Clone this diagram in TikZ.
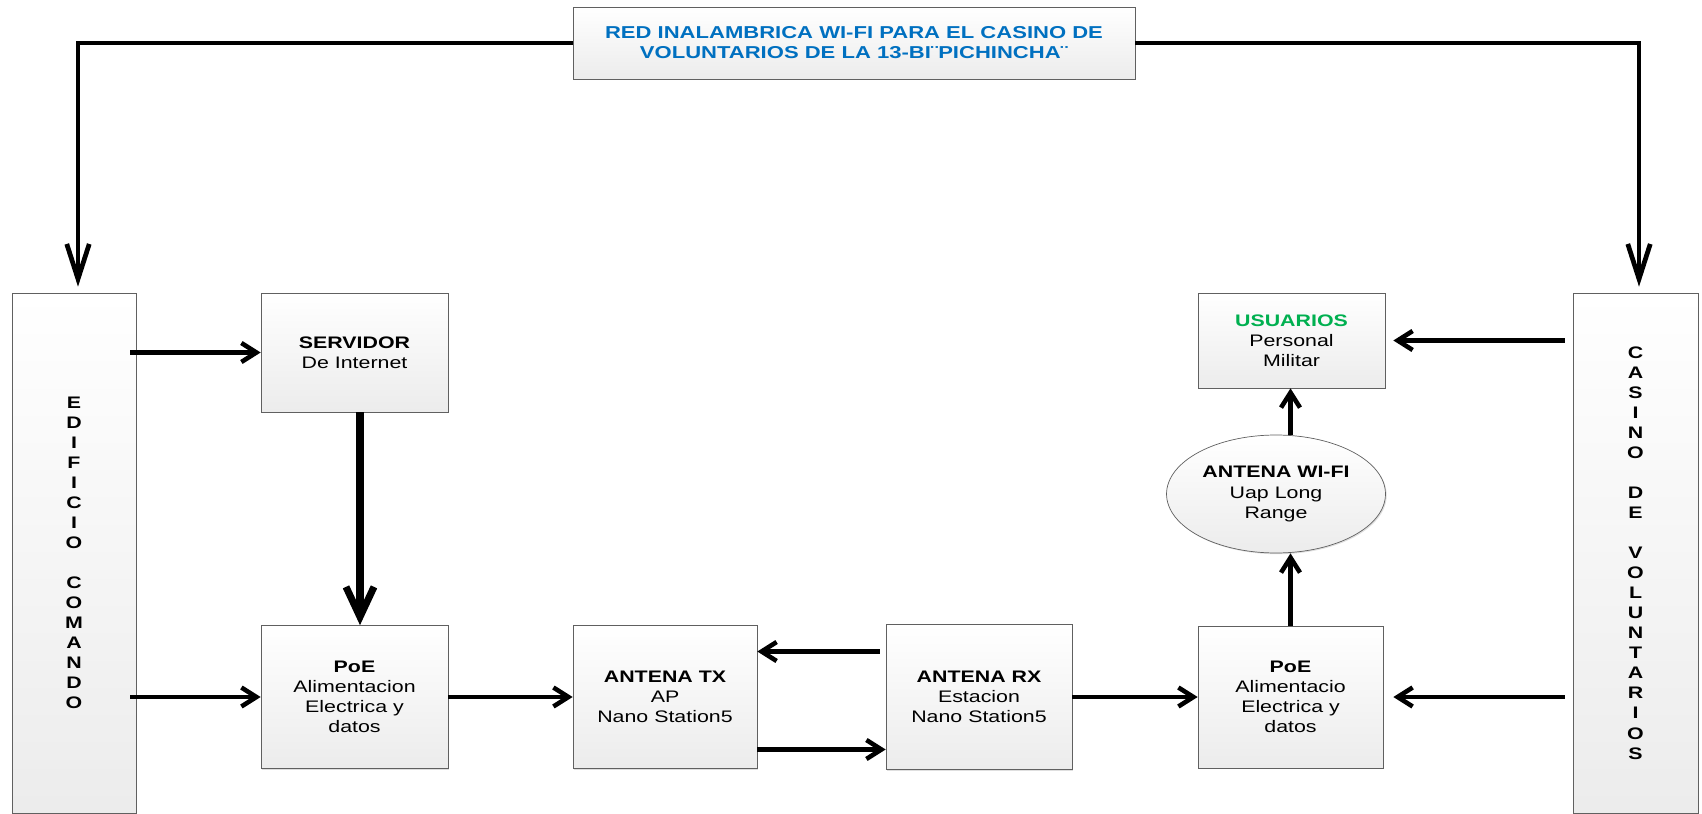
\documentclass[tikz,border=0pt]{standalone}
\usepackage{fontspec}
\setmainfont{Liberation Sans}[FakeStretch=1.28]
\usetikzlibrary{arrows.meta,shapes.geometric,positioning,calc,shadows}
\definecolor{azultitulo}{RGB}{0,112,192}
\definecolor{verdeusuarios}{RGB}{0,176,80}

\begin{document}
\begin{tikzpicture}[
        x=0.02cm, y=-0.02cm,
        % Estilo para las cajas
        box style/.style = {
            draw=gray!75!black,
            rectangle,
            align=center,
            top color=white,
            bottom color=gray!15,
            drop shadow={shadow xshift=0.7pt, shadow yshift=-0.7pt, opacity=0.25},
            font=\fontsize{9.5}{11.4}\selectfont,
            minimum width=3.74cm
        },
        % Estilo para los edificios laterales
        bar style/.style = {
            box style,
            font=\fontsize{9.5}{11.4}\selectfont\bfseries,
            minimum width=2.48cm,
            minimum height=10.4cm
        },
        % Estilo de las flechas
        edge arrow/.style = {
            -{Straight Barb[length=0.3cm,width=0.38cm]},
            line width=2.6pt
        },
        big arrow/.style = {
            -{Straight Barb[length=0.6cm,width=0.56cm]},
            line width=4pt
        },
        top line/.style = {
            -{Straight Barb[length=0.7cm,width=0.45cm]},
            line width=2.7pt
        }
    ]
    \tikzset{
        oval style/.style={box style, ellipse, inner sep=0pt, minimum width=4.38cm, minimum height=2.36cm}
    }

    % Titulo
    \node[box style, minimum width=11.24cm, minimum height=1.44cm,
          font=\fontsize{9.8}{11.4}\selectfont\bfseries, text=azultitulo] (titulo) at (854,43)
        {RED INALAMBRICA WI-FI PARA EL CASINO DE\\VOLUNTARIOS DE LA 13-BI¨PICHINCHA¨};

    % Edificios
    \node[bar style] (edificio) at (74,553)
        {E\\D\\I\\F\\I\\C\\I\\O\\~\\C\\O\\M\\A\\N\\D\\O};
    \node[bar style, minimum width=2.5cm] (casino) at (1635.5,553)
        {C\\A\\S\\I\\N\\O\\~\\D\\E\\~\\V\\O\\L\\U\\N\\T\\A\\R\\I\\O\\S};

    % Equipos
    \node[box style, minimum height=2.38cm] (servidor) at (354.5,352.5)
        {\textbf{SERVIDOR}\\De Internet};
    \node[box style, minimum height=2.86cm] (poe1) at (354.5,697)
        {\textbf{PoE}\\Alimentacion\\Electrica y\\datos};
    \node[box style, minimum width=3.68cm, minimum height=2.86cm] (tx) at (665,697)
        {\textbf{ANTENA TX}\\AP\\Nano Station5};
    \node[box style, minimum width=3.72cm, minimum height=2.9cm] (rx) at (979,697)
        {\textbf{ANTENA RX}\\Estacion\\Nano Station5};
    \node[box style, minimum width=3.7cm, minimum height=2.84cm] (poe2) at (1290.5,697)
        {\textbf{PoE}\\Alimentacio\\Electrica y\\datos};
    \node[oval style] (antena) at (1276,494)
        {\textbf{ANTENA WI-FI}\\Uap Long\\Range};
    \node[box style, minimum height=1.9cm] (usuarios) at (1291.5,340.5)
        {\textcolor{verdeusuarios}{\textbf{USUARIOS}}\\Personal\\Militar};

    % Conexiones
    \draw[top line, shorten >=0.12cm] (titulo.west) -| ([xshift=0.08cm]edificio.north);
    \draw[top line, shorten >=0.12cm] (titulo.east) -| ([xshift=0.07cm]casino.north);
    \draw[edge arrow, shorten <=-0.12cm] (edificio.east |- servidor.west) -- (servidor.west);
    \draw[edge arrow, shorten <=-0.12cm] (edificio.east |- poe1.west) -- (poe1.west);
    \draw[big arrow] ([xshift=0.11cm]servidor.south) -- ([xshift=0.11cm]poe1.north);
    \draw[edge arrow] (poe1.east) -- (tx.west);
    \draw[edge arrow, shorten <=0.12cm] ([yshift=0.91cm]rx.west) -- ([yshift=0.91cm]tx.east);
    \draw[edge arrow] ([yshift=-1.05cm]tx.east) -- ([yshift=-1.05cm]rx.west);
    \draw[edge arrow] (rx.east) -- (poe2.west);
    \draw[edge arrow, shorten <=0.16cm, shorten >=0.2cm] (casino.west |- poe2.east) -- (poe2.east);
    \draw[edge arrow, shorten <=0.16cm, shorten >=0.16cm] (casino.west |- usuarios.east) -- (usuarios.east);
    \draw[edge arrow] (poe2.north) -- (poe2.north |- antena.south);
    \draw[edge arrow] (poe2.north |- antena.north) -- (poe2.north |- usuarios.south);

    \useasboundingbox (0,0) rectangle (1702,811);
\end{tikzpicture}
\end{document}
